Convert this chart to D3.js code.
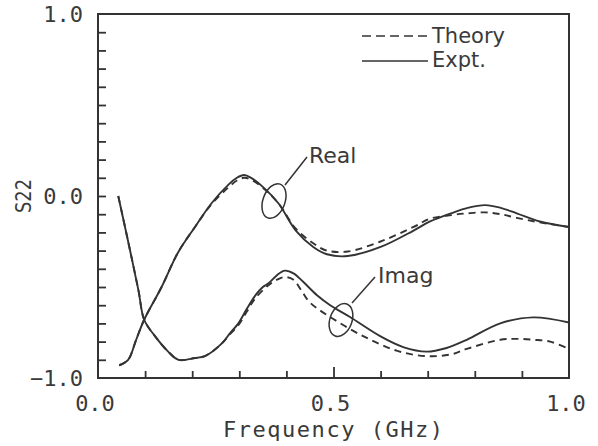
<!DOCTYPE html>
<html><head><meta charset="utf-8">
<script src="https://cdn.jsdelivr.net/npm/d3@7"></script>
<style>body{margin:0;background:#fff}svg{display:block}</style>
</head><body>
<script>
// ---- data (frequency GHz, S22 value) ----
const realExptF = [0.045,0.064,0.081,0.098,0.135,0.17,0.206,0.241,0.276,0.295,0.31,0.325,0.35,0.383,0.42,0.457,0.486,0.53,0.60,0.67,0.705,0.75,0.785,0.822,0.855,0.889,0.938,1.0];
const realExptV = [-0.93,-0.90,-0.79,-0.68,-0.50,-0.31,-0.17,-0.04,0.06,0.10,0.115,0.10,0.05,-0.04,-0.19,-0.28,-0.32,-0.33,-0.28,-0.19,-0.14,-0.095,-0.065,-0.05,-0.065,-0.095,-0.14,-0.17];
const realTheoryF = [0.045,0.064,0.081,0.098,0.135,0.17,0.206,0.241,0.276,0.295,0.31,0.325,0.35,0.383,0.42,0.457,0.486,0.53,0.60,0.67,0.705,0.75,0.785,0.822,0.855,0.889,0.938,1.0];
const realTheoryV = [-0.93,-0.90,-0.79,-0.68,-0.50,-0.31,-0.17,-0.045,0.045,0.085,0.10,0.09,0.045,-0.04,-0.18,-0.26,-0.30,-0.305,-0.25,-0.17,-0.125,-0.105,-0.095,-0.09,-0.10,-0.12,-0.145,-0.17];
const imagExptF = [0.043,0.064,0.086,0.098,0.121,0.149,0.171,0.206,0.227,0.263,0.28,0.298,0.316,0.333,0.35,0.362,0.38,0.397,0.415,0.435,0.465,0.493,0.535,0.599,0.648,0.698,0.74,0.783,0.854,0.924,1.0];
const imagExptV = [0.0,-0.25,-0.52,-0.68,-0.77,-0.855,-0.90,-0.89,-0.88,-0.81,-0.755,-0.70,-0.62,-0.55,-0.50,-0.48,-0.435,-0.41,-0.425,-0.47,-0.545,-0.60,-0.665,-0.77,-0.83,-0.855,-0.835,-0.79,-0.70,-0.667,-0.695];
const imagTheoryF = [0.043,0.064,0.086,0.098,0.121,0.149,0.171,0.206,0.227,0.263,0.28,0.298,0.316,0.333,0.362,0.38,0.397,0.415,0.432,0.45,0.493,0.563,0.634,0.698,0.75,0.783,0.854,0.89,0.924,0.96,1.0];
const imagTheoryV = [0.0,-0.25,-0.52,-0.68,-0.77,-0.855,-0.90,-0.89,-0.88,-0.81,-0.76,-0.71,-0.635,-0.565,-0.49,-0.46,-0.445,-0.46,-0.52,-0.585,-0.665,-0.77,-0.85,-0.88,-0.87,-0.84,-0.79,-0.785,-0.79,-0.80,-0.84];
const xTickLabels = ["0.0","0.5","1.0"];
const yTickLabels = ["-1.0","0.0","1.0"];
const legendLabels = ["Theory","Expt."];

const W = 598, H = 446;
const ink = "#333";
const svg = d3.select("body").append("svg").attr("width", W).attr("height", H);
const x = d3.scaleLinear().domain([0, 1]).range([98, 569]);
const y = d3.scaleLinear().domain([-1, 1]).range([378, 14]);

// frame
svg.append("rect").attr("x", x(0)).attr("y", y(1)).attr("width", x(1) - x(0)).attr("height", y(-1) - y(1))
  .attr("fill", "none").attr("stroke", ink).attr("stroke-width", 2);

// left axis minor ticks (inward)
const yTicks = d3.range(-9, 10).map(d => d / 10);
const gy = svg.append("g").attr("transform", `translate(${x(0)},0)`)
  .call(d3.axisLeft(y).tickValues(yTicks).tickSize(-8).tickFormat(""));
gy.select(".domain").remove();
gy.selectAll("line").attr("stroke", ink).attr("stroke-width", 1.8);

// bottom axis ticks (inward)
const xTicks = d3.range(1, 10).map(d => d / 10);
const gx = svg.append("g").attr("transform", `translate(0,${y(-1)})`)
  .call(d3.axisBottom(x).tickValues(xTicks).tickSize(-7).tickFormat(""));
gx.select(".domain").remove();
gx.selectAll("line").attr("stroke", ink).attr("stroke-width", 1.8)
  .filter(d => Math.abs(d - 0.5) < 1e-9).attr("y2", -11);

const mono = "'DejaVu Sans Mono', 'Liberation Mono', monospace";
const sans = "'DejaVu Sans', 'Open Sans', sans-serif";
const txt = "#3a3a3a";

// y tick labels
svg.append("g").selectAll("text").data(yTickLabels).join("text")
  .attr("x", x(0) - 15).attr("y", d => y(+d)).attr("dy", "0.36em")
  .attr("text-anchor", "end").attr("font-family", mono).attr("font-size", 22).attr("fill", txt)
  .text(d => d.replace("-", "\u2212"));
// x tick labels
svg.append("g").selectAll("text").data(xTickLabels).join("text")
  .attr("x", d => x(+d) - 3).attr("y", 411)
  .attr("text-anchor", "middle").attr("font-family", mono).attr("font-size", 22).attr("fill", txt)
  .text(d => d);

// axis titles
svg.append("text").attr("x", 333).attr("y", 437).attr("text-anchor", "middle")
  .attr("font-family", mono).attr("font-size", 22).attr("fill", txt)
  .attr("textLength", 220).attr("lengthAdjust", "spacing").text("Frequency (GHz)");
svg.append("text").attr("transform", "translate(31,196) rotate(-90)").attr("text-anchor", "middle")
  .attr("font-family", sans).attr("font-size", 22).attr("fill", txt)
  .attr("textLength", 34).attr("lengthAdjust", "spacingAndGlyphs").text("S22");

// curves
const line = d3.line().x(d => x(d[0])).y(d => y(d[1])).curve(d3.curveCatmullRom.alpha(0.5));
const series = [
  [realExptF, realExptV, null],
  [imagExptF, imagExptV, null],
  [realTheoryF, realTheoryV, "7,5"],
  [imagTheoryF, imagTheoryV, "7,5"]
];
series.forEach(([f, v, dash]) => {
  svg.append("path").datum(f.map((d, i) => [d, v[i]])).attr("d", line)
    .attr("fill", "none").attr("stroke", ink).attr("stroke-width", 1.9)
    .attr("stroke-dasharray", dash);
});

// legend
const lg = svg.append("g");
lg.append("line").attr("x1", 362).attr("x2", 431).attr("y1", 36).attr("y2", 36)
  .attr("stroke", ink).attr("stroke-width", 1.6).attr("stroke-dasharray", "9,5");
lg.append("line").attr("x1", 362).attr("x2", 428).attr("y1", 61).attr("y2", 61)
  .attr("stroke", ink).attr("stroke-width", 1.6);
lg.selectAll("text").data(legendLabels).join("text")
  .attr("x", 432).attr("y", (d, i) => 43 + i * 24)
  .attr("font-family", sans).attr("font-size", 21).attr("fill", txt).text(d => d);

// annotations
const ann = svg.append("g").attr("fill", "none").attr("stroke", ink).attr("stroke-width", 1.5);
ann.append("ellipse").attr("cx", 0).attr("cy", 0).attr("rx", 11).attr("ry", 18)
  .attr("transform", "translate(274,201) rotate(20)");
ann.append("line").attr("x1", 307).attr("y1", 157).attr("x2", 285).attr("y2", 185);
ann.append("ellipse").attr("cx", 0).attr("cy", 0).attr("rx", 11).attr("ry", 17)
  .attr("transform", "translate(341,320) rotate(20)");
ann.append("line").attr("x1", 375).attr("y1", 277).attr("x2", 352).attr("y2", 303);
svg.append("text").attr("x", 309).attr("y", 163).attr("font-family", sans).attr("font-size", 22)
  .attr("fill", txt).text("Real");
svg.append("text").attr("x", 378).attr("y", 283).attr("font-family", sans).attr("font-size", 22)
  .attr("fill", txt).text("Imag");
</script>
</body></html>
